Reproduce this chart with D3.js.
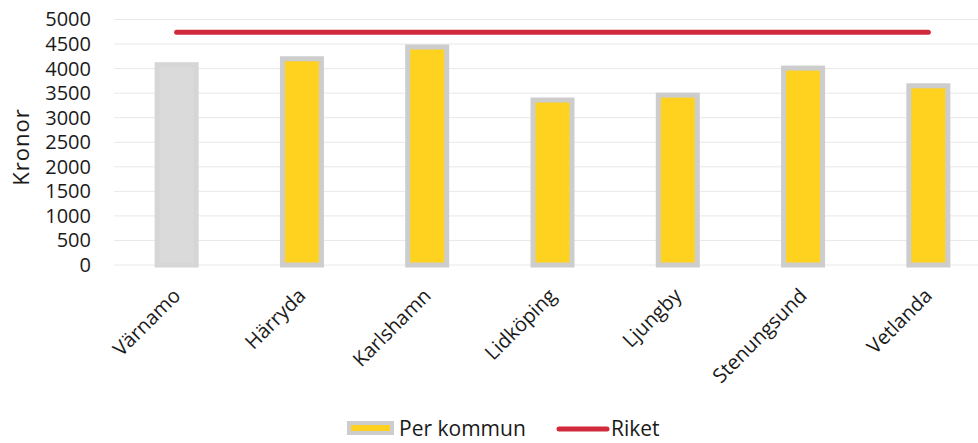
<!DOCTYPE html>
<html>
<head>
<meta charset="utf-8">
<script src="https://cdn.jsdelivr.net/npm/d3@7"></script>
<style>
  body { margin: 0; background: #fff; }
  svg text { font-family: "Open Sans", sans-serif; fill: #1a1a1a; }
</style>
</head>
<body>
<div id="chart"></div>
<script>
const kommuner = ["Värnamo", "Härryda", "Karlshamn", "Lidköping", "Ljungby", "Stenungsund", "Vetlanda"];
const perKommun = [4080, 4200, 4440, 3360, 3460, 4010, 3650];
const riket = [4740, 4740, 4740, 4740, 4740, 4740, 4740];
const yTicks = [0, 500, 1000, 1500, 2000, 2500, 3000, 3500, 4000, 4500, 5000];

const width = 978, height = 443;
const svg = d3.select("#chart").append("svg")
  .attr("width", width)
  .attr("height", height);

const x = d3.scalePoint().domain(kommuner).range([114, 991]).padding(0.5);
const y = d3.scaleLinear().domain([0, 5000]).range([265, 19.5]);
const barW = 39;

// gridlines
svg.append("g")
  .selectAll("line")
  .data(yTicks)
  .join("line")
  .attr("x1", 114)
  .attr("x2", width)
  .attr("y1", (d) => y(d))
  .attr("y2", (d) => y(d))
  .attr("stroke", "#e8e8e8")
  .attr("stroke-width", 1);

// y axis labels
const yAxis = svg.append("g")
  .attr("transform", "translate(91,0)")
  .call(d3.axisLeft(y).tickValues(yTicks).tickSize(0).tickPadding(0).tickFormat(d3.format("d")));
yAxis.select(".domain").remove();
yAxis.selectAll("text")
  .attr("font-size", 20)
  .attr("font-family", "Open Sans, sans-serif")
  .attr("fill", "#1a1a1a");

svg.append("text")
  .attr("transform", "translate(29,147) rotate(-90)")
  .attr("text-anchor", "middle")
  .attr("font-size", 22)
  .attr("letter-spacing", 1)
  .text("Kronor");

// bars
svg.append("g")
  .selectAll("rect")
  .data(kommuner)
  .join("rect")
  .attr("x", (d) => x(d) - barW / 2)
  .attr("y", (d, i) => y(perKommun[i]))
  .attr("width", barW)
  .attr("height", (d, i) => y(0) - y(perKommun[i]))
  .attr("fill", (d, i) => (i ? "#ffd21f" : "#dadada"))
  .attr("stroke", (d, i) => (i ? "#cdcdcd" : "#d6d6d6"))
  .attr("stroke-width", 5);

// riket line
const line = d3.line()
  .x((d, i) => x(kommuner[i]))
  .y((d) => y(d));
svg.append("path")
  .datum(riket)
  .attr("d", line)
  .attr("fill", "none")
  .attr("stroke", "#d02a3c")
  .attr("stroke-width", 5)
  .attr("stroke-linecap", "round");

// x labels
const xAxis = svg.append("g")
  .call(d3.axisBottom(x).tickSize(0).tickPadding(0));
xAxis.select(".domain").remove();
xAxis.selectAll(".tick").attr("transform", null);
xAxis.selectAll("text")
  .attr("font-size", 20)
  .attr("font-family", "Open Sans, sans-serif")
  .attr("fill", "#1a1a1a")
  .attr("text-anchor", "end")
  .attr("y", 0)
  .attr("dy", 0)
  .attr("transform", (d) => `translate(${x(d) + 5},297) rotate(-45)`);

// legend
const legend = svg.append("g");
legend.append("rect")
  .attr("x", 349)
  .attr("y", 423)
  .attr("width", 43)
  .attr("height", 10)
  .attr("fill", "#ffd21f")
  .attr("stroke", "#cdcdcd")
  .attr("stroke-width", 4);
legend.append("text")
  .attr("x", 399)
  .attr("y", 436)
  .attr("font-size", 21)
  .text("Per kommun");
legend.append("line")
  .attr("x1", 559)
  .attr("x2", 607)
  .attr("y1", 429)
  .attr("y2", 429)
  .attr("stroke", "#d02a3c")
  .attr("stroke-width", 5)
  .attr("stroke-linecap", "round");
legend.append("text")
  .attr("x", 611)
  .attr("y", 436)
  .attr("font-size", 21)
  .text("Riket");
</script>
</body>
</html>
